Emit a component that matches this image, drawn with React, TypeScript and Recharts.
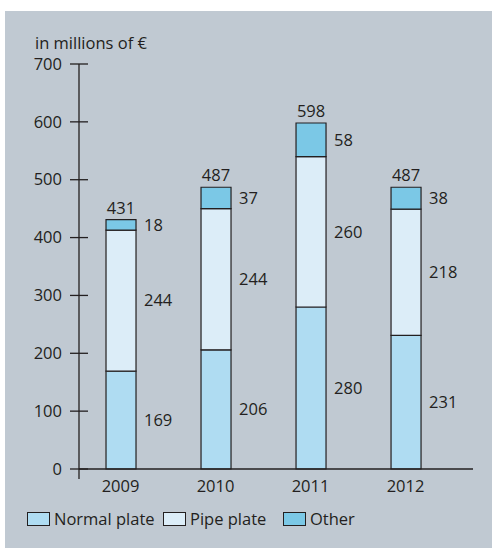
import { BarChart, Bar, XAxis, YAxis, LabelList, Legend } from 'recharts';

const years = [2009, 2010, 2011, 2012];
const normalPlate = [169, 206, 280, 231];
const pipePlate = [244, 244, 260, 218];
const otherPlate = [18, 37, 58, 38];
const totals = [431, 487, 598, 487];
const yTicks = [0, 100, 200, 300, 400, 500, 600, 700];

const SERIES = [
  { key: 'normal', name: 'Normal plate', color: '#afdcf2', slot: 136 },
  { key: 'pipe', name: 'Pipe plate', color: '#dcedf8', slot: 120 },
  { key: 'other', name: 'Other', color: '#7bc8e6', slot: 100 },
];

const INK = '#231f20';
const BG = '#c0c9d2';
const FONT = '"Open Sans", "Noto Sans", sans-serif';
const FS = 16.5;

const data = years.map((year, i) => ({
  year,
  normal: normalPlate[i],
  pipe: pipePlate[i],
  other: otherPlate[i],
  total: totals[i],
}));

function YTick({ x, y, payload }: any) {
  return (
    <g>
      <line x1={x - 9} x2={x + 9} y1={y} y2={y} stroke={INK} strokeWidth={1.3} />
      {payload.value === 0 && <line x1={x} x2={x} y1={y} y2={y + 10} stroke={INK} strokeWidth={1.3} />}
      <text x={x - 17} y={y} dy="0.35em" textAnchor="end" fill={INK} fontSize={FS} fontFamily={FONT}>
        {payload.value}
      </text>
    </g>
  );
}

function LegendContent() {
  return (
    <div style={{ display: 'flex', fontFamily: FONT, fontSize: FS, color: INK }}>
      {SERIES.map((s) => (
        <div key={s.key} style={{ display: 'flex', alignItems: 'center', width: s.slot }}>
          <span
            style={{
              display: 'inline-block',
              width: 21,
              height: 12,
              background: s.color,
              border: `1px solid ${INK}`,
              marginRight: 4,
            }}
          />
          <span>{s.name}</span>
        </div>
      ))}
    </div>
  );
}

export default function App() {
  return (
    <div style={{ position: 'absolute', left: 5, top: 11, width: 487, height: 537, background: BG }}>
      <BarChart
        width={487}
        height={537}
        data={data}
        margin={{ top: 53, right: 19, left: 0, bottom: 26 }}
        style={{ fontFamily: FONT }}
      >
        <XAxis
          dataKey="year"
          type="number"
          domain={[2008.563, 2012.71]}
          ticks={years}
          tickLine={false}
          tickSize={0}
          tickMargin={11}
          height={30}
          axisLine={{ stroke: INK, strokeWidth: 1.3 }}
          tick={{ fill: INK, fontSize: FS, fontFamily: FONT }}
        />
        <YAxis
          width={74}
          domain={[0, 700]}
          ticks={yTicks}
          tickLine={false}
          tickSize={0}
          tickMargin={0}
          axisLine={{ stroke: INK, strokeWidth: 1.3 }}
          tick={<YTick />}
          label={{
            content: ({ viewBox }: any) => (
              <text x={viewBox.x + 30} y={viewBox.y - 15} fill={INK} fontSize={FS} fontFamily={FONT}>
                in millions of €
              </text>
            ),
          }}
        />
        <Legend
          content={<LegendContent />}
          verticalAlign="bottom"
          wrapperStyle={{ left: 22, top: 496, bottom: 'auto', width: 440 }}
        />
        {SERIES.map((s) => (
          <Bar
            key={s.key}
            dataKey={s.key}
            name={s.name}
            stackId="a"
            fill={s.color}
            stroke={INK}
            strokeWidth={1.2}
            barSize={30}
            isAnimationActive={false}
          >
            <LabelList dataKey={s.key} position="right" offset={8} fill={INK} fontSize={FS} fontFamily={FONT} />
            {s.key === 'other' && (
              <LabelList dataKey="total" position="top" offset={6} fill={INK} fontSize={FS} fontFamily={FONT} />
            )}
          </Bar>
        ))}
      </BarChart>
    </div>
  );
}
